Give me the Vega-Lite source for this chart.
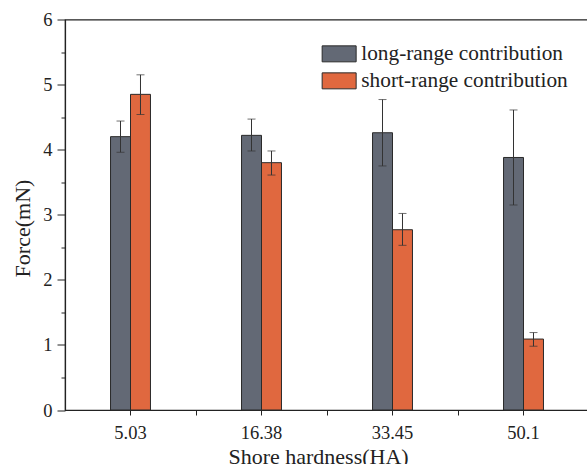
{
  "$schema": "https://vega.github.io/schema/vega-lite/v6.json",
  "autosize": {"type": "none"},
  "padding": {"left": 65, "top": 19.5, "right": 0, "bottom": 54},
  "width": 524,
  "height": 390.5,
  "background": "white",
  "config": {
    "view": {"stroke": "#222", "strokeWidth": 1.2},
    "font": "Liberation Serif",
    "axis": {"labelFont": "Liberation Serif", "titleFont": "Liberation Serif", "labelColor": "#222", "titleColor": "#222", "tickColor": "#222", "domainColor": "#222", "grid": false, "titleFontWeight": "normal"},
    "legend": {"labelFont": "Liberation Serif", "titleFont": "Liberation Serif"}
  },
  "data": {
    "values": [
      {"hardness": "5.03", "series": "long-range contribution", "force": 4.20, "lo": 3.96, "hi": 4.44},
      {"hardness": "5.03", "series": "short-range contribution", "force": 4.85, "lo": 4.54, "hi": 5.15},
      {"hardness": "16.38", "series": "long-range contribution", "force": 4.22, "lo": 3.98, "hi": 4.47},
      {"hardness": "16.38", "series": "short-range contribution", "force": 3.80, "lo": 3.61, "hi": 3.98},
      {"hardness": "33.45", "series": "long-range contribution", "force": 4.26, "lo": 3.75, "hi": 4.77},
      {"hardness": "33.45", "series": "short-range contribution", "force": 2.77, "lo": 2.53, "hi": 3.02},
      {"hardness": "50.1", "series": "long-range contribution", "force": 3.88, "lo": 3.15, "hi": 4.61},
      {"hardness": "50.1", "series": "short-range contribution", "force": 1.09, "lo": 0.98, "hi": 1.19}
    ]
  },
  "resolve": {"axis": {"x": "independent", "y": "independent"}},
  "layer": [
    {
      "mark": {"type": "bar", "stroke": "#2a2a2a", "strokeWidth": 1},
      "encoding": {
        "x": {
          "field": "hardness", "type": "nominal", "sort": null,
          "scale": {"paddingInner": 0.695, "paddingOuter": 0.3475},
          "axis": {"orient": "bottom", "title": "Shore hardness(HA)", "titleFont": "Liberation Serif", "titleFontSize": 22, "titleX": 253, "titleY": 53.5, "titleBaseline": "alphabetic", "titleAnchor": "middle", "labelFont": "Liberation Serif", "labelFontSize": 18.5, "labelAngle": 0, "labelBaseline": "alphabetic", "tickSize": 5, "labelPadding": 23, "domainWidth": 1.2}
        },
        "xOffset": {"field": "series", "type": "nominal", "scale": {"paddingOuter": 0, "paddingInner": 0}},
        "y": {
          "field": "force", "type": "quantitative",
          "scale": {"domain": [0, 6], "nice": false},
          "axis": {"orient": "left", "title": "Force(mN)", "titleFont": "Liberation Serif", "titleFontSize": 22, "titleX": -35.5, "titleY": 208.5, "titleBaseline": "alphabetic", "titleAngle": -90, "titleAnchor": "middle", "values": [0, 1, 2, 3, 4, 5, 6], "labelFont": "Liberation Serif", "labelFontSize": 18.5, "tickSize": 8, "labelPadding": 5, "domainWidth": 1.2}
        },
        "fill": {
          "field": "series", "type": "nominal",
          "scale": {"domain": ["long-range contribution", "short-range contribution"], "range": ["#636975", "#e0683f"]},
          "legend": {"orient": "none", "legendX": 263.5, "legendY": 23.7, "title": null, "padding": 0, "symbolType": "M-2,-0.94L2,-0.94L2,0.94L-2,0.94Z", "symbolSize": 289, "symbolStrokeColor": "#2a2a2a", "symbolStrokeWidth": 1, "symbolOpacity": 1, "labelFont": "Liberation Serif", "labelFontSize": 21.3, "labelColor": "#222", "labelOffset": 11.5, "rowPadding": 5, "labelLimit": 400}
        }
      }
    },
    {
      "mark": {"type": "rule", "color": "#333", "strokeWidth": 1},
      "encoding": {
        "x": {"field": "hardness", "type": "nominal", "sort": null,
          "axis": {"orient": "bottom", "tickOffset": 65.5, "labels": false, "domain": false, "title": null, "tickSize": 5, "tickColor": "#222"}},
        "xOffset": {"field": "series", "type": "nominal"},
        "y": {"field": "lo", "type": "quantitative",
          "axis": {"orient": "left", "values": [0.5, 1.5, 2.5, 3.5, 4.5, 5.5], "labels": false, "domain": false, "title": null, "tickSize": 4, "tickColor": "#222"}},
        "y2": {"field": "hi"}
      }
    },
    {
      "mark": {"type": "tick", "color": "#333", "thickness": 1, "size": 8, "orient": "horizontal"},
      "encoding": {
        "x": {"field": "hardness", "type": "nominal", "sort": null, "axis": null},
        "xOffset": {"field": "series", "type": "nominal"},
        "y": {"field": "lo", "type": "quantitative", "axis": null}
      }
    },
    {
      "mark": {"type": "tick", "color": "#333", "thickness": 1, "size": 8, "orient": "horizontal"},
      "encoding": {
        "x": {"field": "hardness", "type": "nominal", "sort": null, "axis": null},
        "xOffset": {"field": "series", "type": "nominal"},
        "y": {"field": "hi", "type": "quantitative", "axis": null}
      }
    }
  ]
}
